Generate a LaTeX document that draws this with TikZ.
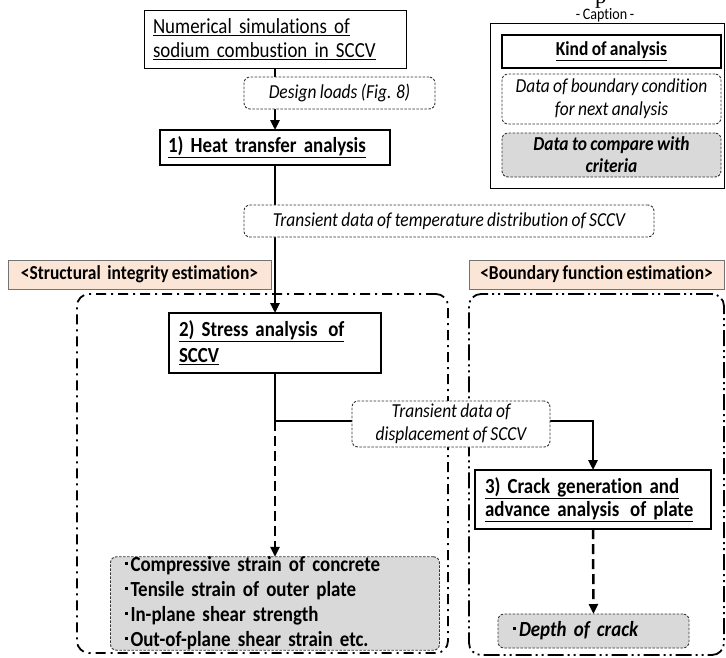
\documentclass[tikz,border=0pt]{standalone}
\usepackage{fontspec}
\setmainfont{Carlito}[FakeStretch=0.88,Ligatures=NoCommon,WordSpace=0.85]
\newfontfamily\serifp{Liberation Serif}
\usetikzlibrary{arrows.meta}
\definecolor{peach}{HTML}{FBE5D6}
\definecolor{critgray}{HTML}{D9D9D9}
\newcommand\sqbul{\raisebox{7pt}{\rule{3pt}{3pt}}\hspace{3pt}}
\begin{document}
\begin{tikzpicture}[x=1pt,y=-1pt,
  every node/.style={inner sep=0pt,outer sep=0pt},
  thinbox/.style={draw=black,line width=0.8pt,fill=white,align=left,font=\fontsize{21.5}{24}\selectfont},
  anbox/.style={draw=black,line width=2.6pt,fill=white,align=left,font=\bfseries\fontsize{21.5}{25}\selectfont},
  databox/.style={draw=black!80,dash pattern=on 2.5pt off 1.5pt,line width=0.9pt,rounded corners=6pt,fill=white,align=center,font=\itshape\fontsize{19.8}{23}\selectfont},
  critbox/.style={databox,fill=critgray,align=left,font=\bfseries\fontsize{21.5}{25}\selectfont},
  estlabel/.style={draw=black!55,line width=0.8pt,fill=peach,font=\bfseries\fontsize{19.8}{20}\selectfont},
  conn/.style={line width=2.5pt,-{Triangle[length=10pt,width=9pt]}},
  dconn/.style={conn,dash pattern=on 10pt off 5pt},
  regionA/.style={draw=black,line width=1.8pt,rounded corners=12pt,dash pattern=on 10pt off 5pt on 2pt off 5pt},
  regionB/.style={draw=black,line width=1.8pt,rounded corners=12pt,dash pattern=on 16pt off 4pt on 2pt off 4pt on 2pt off 4pt}]
\useasboundingbox (0,0) rectangle (726,657);
% cut-off letter at the top edge
\node[anchor=base west,font=\serifp\fontsize{23}{23}\selectfont] (ptop) at (595,3) {p};
% regions
\node[regionA,minimum width=371,minimum height=359] (leftreg) at (262.5,473.5) {};
\node[regionB,minimum width=255,minimum height=361] (rightreg) at (596.5,474.5) {};
% region labels
\node[estlabel,minimum width=263,minimum height=29] (structlab) at (139.5,274.5) {<Structural\ \,integrity estimation>};
\node[estlabel,minimum width=255,minimum height=29] (boundlab) at (596.5,274.5) {<Boundary function estimation>};
% caption
\node[font=\fontsize{16}{16}\selectfont] (captxt) at (605,15) {- Caption -};
\node[draw=black,line width=0.8pt,minimum width=234,minimum height=165] (capbox) at (607,105.5) {};
\node[anbox,align=center,minimum width=219,minimum height=33,font=\bfseries\fontsize{19.8}{22}\selectfont] (capkind) at (611.5,51.5) {\underline{Kind of analysis}};
\node[databox,minimum width=219,minimum height=50] (capdata) at (611.5,99) {Data of boundary condition\\for next analysis};
\node[databox,fill=critgray,minimum width=219,minimum height=44,font=\bfseries\itshape\fontsize{19.8}{22}\selectfont] (capcrit) at (611.5,155) {Data to compare with\\criteria};
% main boxes
\node[thinbox,minimum height=58,text width=244,inner xsep=9pt] (top) at (275,39) {\underline{Numerical simulations of}\\\underline{sodium combustion in SCCV}};
\node[anbox,minimum height=35,text width=214,inner xsep=8pt] (heat) at (275,147.5) {\underline{1) Heat transfer analysis}};
\node[anbox,minimum height=60,text width=192,inner xsep=10pt,font=\bfseries\fontsize{21.5}{26}\selectfont] (stress) at (275,343) {\underline{2) Stress analysis\ \,of}\\\underline{SCCV}};
\node[anbox,minimum height=59,text width=216,inner xsep=10pt,font=\bfseries\fontsize{21.5}{23}\selectfont] (crack) at (593,499.5) {\underline{3) Crack generation and}\\\underline{advance analysis\ \,of plate}};
\node[critbox,minimum height=93,text width=301,inner xsep=14pt] (items) at (275,603.5) {\sqbul Compressive strain of concrete\\\sqbul Tensile strain of outer plate\\\sqbul In-plane shear strength\\\sqbul Out-of-plane shear strain etc.};
\node[critbox,minimum height=34,text width=161,inner xsep=15pt,font=\bfseries\itshape\fontsize{21.5}{25}\selectfont] (depth) at (593.5,631) {\sqbul Depth of crack};
% connectors
\coordinate (split) at (275,421);
\draw[conn] (top.south) -- (heat.north);
\draw[conn] (heat.south) -- (stress.north);
\draw[conn] (stress.south) -- (split) -| (crack.north);
\draw[dconn] (split) -- (items.north);
\draw[dconn] (crack.south) -- (depth.north);
% data labels on connectors
\node[databox,minimum width=191,minimum height=32] (design) at (339.5,93) {Design loads (Fig. 8)};
\node[databox,minimum width=410,minimum height=32] (temp) at (449,221) {Transient data of temperature distribution of SCCV};
\node[databox,minimum width=198,minimum height=46] (disp) at (451,424) {Transient data of\\displacement of SCCV};
\end{tikzpicture}
\end{document}
